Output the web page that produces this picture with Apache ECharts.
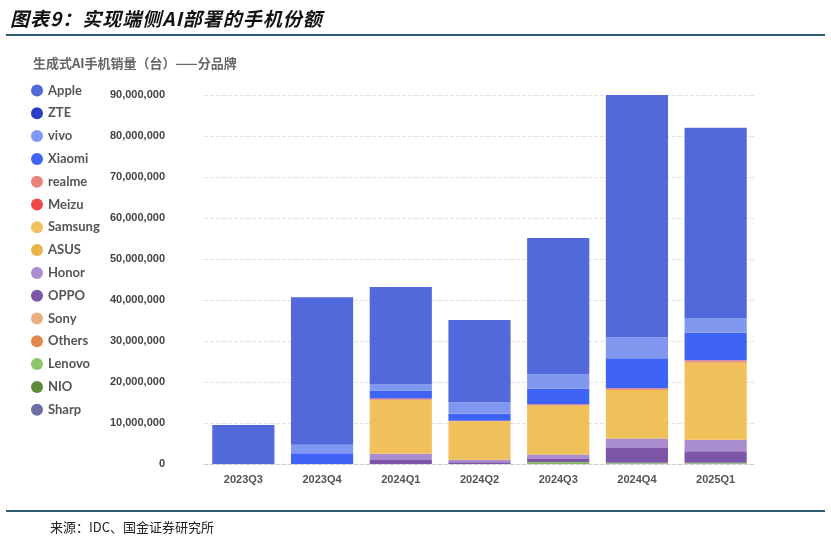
<!DOCTYPE html>
<html><head><meta charset="utf-8">
<script src="https://cdn.jsdelivr.net/npm/echarts@6/dist/echarts.min.js"></script>
<style>
body{margin:0;background:#fff;font-family:"Noto Sans CJK SC",sans-serif;}
#head{position:absolute;left:10px;top:4px;font-size:19px;font-weight:bold;font-style:italic;color:#111;letter-spacing:1px;}
#hl{position:absolute;left:6px;right:6px;top:34px;border-top:2px solid #2f5d73;}
#fl{position:absolute;left:6px;right:6px;top:510px;border-top:2px solid #2f5d73;}
#foot{position:absolute;left:50px;top:517px;font-size:13px;color:#222;}
#c{position:absolute;left:0;top:0;width:831px;height:540px;}
</style></head><body>
<div id="c"></div>
<div id="head">图表9：实现端侧AI部署的手机份额</div>
<div id="hl"></div><div id="fl"></div>
<div id="foot">来源：IDC、国金证券研究所</div>
<script>
const quarters = ['2023Q3','2023Q4','2024Q1','2024Q2','2024Q3','2024Q4','2025Q1'];
const brands = ['Apple','ZTE','vivo','Xiaomi','realme','Meizu','Samsung','ASUS','Honor','OPPO','Sony','Others','Lenovo','NIO','Sharp'];
const colors = ['#5169db','#2a3fc4','#8098f0','#3f63f5','#e8857a','#ef4a4a','#f0c05a','#e8b44a','#a98dce','#7c55a8','#e8b07f','#e0894a','#8cc46a','#5f8a3a','#6c6fa5'];
// stacking order bottom -> top
const stackOrder = ['Sharp','NIO','Lenovo','Others','Sony','OPPO','Honor','ASUS','Samsung','Meizu','realme','Xiaomi','vivo','ZTE','Apple'];
const apple   = [9500000,36000000,23700000,20100000,33200000,59600000,46400000];
const zte     = [0,0,0,0,0,0,0];
const vivo    = [0,2100000,1600000,2800000,3500000,5100000,3600000];
const xiaomi  = [0,2600000,1900000,1700000,3800000,7300000,6700000];
const realme  = [0,0,200000,100000,200000,200000,300000];
const meizu   = [0,0,100000,0,100000,100000,200000];
const samsung = [0,0,13200000,9400000,12000000,12000000,18900000];
const asus    = [0,0,0,0,0,0,0];
const honor   = [0,0,1500000,650000,1100000,2300000,2800000];
const oppo    = [0,0,1000000,400000,700000,3600000,2800000];
const sony    = [0,0,0,0,0,0,0];
const others  = [0,0,0,0,0,0,0];
const lenovo  = [0,0,0,0,300000,200000,200000];
const nio     = [0,0,0,0,200000,100000,100000];
const sharp   = [0,0,0,0,0,0,0];
const values = {Apple:apple,ZTE:zte,vivo:vivo,Xiaomi:xiaomi,realme:realme,Meizu:meizu,Samsung:samsung,ASUS:asus,Honor:honor,OPPO:oppo,Sony:sony,Others:others,Lenovo:lenovo,NIO:nio,Sharp:sharp};

const chart = echarts.init(document.getElementById('c'));
chart.setOption({
  animation:false,
  title:{text:'生成式AI手机销量（台）——分品牌',left:28,top:52,textStyle:{fontSize:13,fontWeight:'bold',color:'#666',fontFamily:'Noto Sans CJK SC'}},
  color:colors,
  legend:{orient:'vertical',left:26,top:79,itemGap:9.8,icon:'circle',itemWidth:12,itemHeight:12,data:brands,
    textStyle:{fontSize:13,color:'#555',fontWeight:'bold',fontFamily:'Lato'}},
  grid:{left:204,right:76,top:95,bottom:76},
  xAxis:{type:'category',data:quarters,axisTick:{show:false},
    axisLine:{lineStyle:{color:'#ccc',type:'dashed'}},
    axisLabel:{color:'#555',fontWeight:'bold',fontSize:11,margin:10}},
  yAxis:{type:'value',min:0,max:90000000,interval:10000000,
    axisLabel:{color:'#444',fontSize:11,fontWeight:'bold',margin:39,
      formatter:v=>v.toLocaleString('en-US')},
    splitLine:{lineStyle:{color:'#e3e3e3',type:'dashed'}}},
  series:stackOrder.map(b=>({name:b,type:'bar',stack:'s',barCategoryGap:'21%',
    data:values[b],itemStyle:{color:colors[brands.indexOf(b)]}}))
});
</script></body></html>
